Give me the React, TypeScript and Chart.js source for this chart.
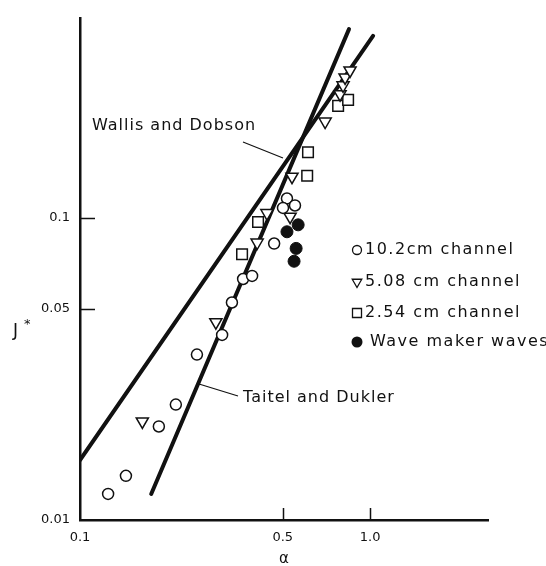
import React, { useEffect, useRef } from 'react';
import { Chart, registerables } from 'chart.js';

Chart.register(...registerables);

// ---- axis ticks ----
const xTicks = [0.1, 0.5, 1.0];
const xTickLabels = ['0.1', '0.5', '1.0'];
const yTicks = [0.01, 0.05, 0.1];
const yTickLabels = ['0.01', '0.05', '0.1'];
const xMin = 0.1;
const xMax = 2.55;
const yMin = 0.01;
const yMax = 0.46;

// ---- 10.2 cm channel (open circles) ----
const ch102Alpha = [0.125, 0.144, 0.187, 0.214, 0.253, 0.309, 0.334, 0.365, 0.392, 0.467, 0.517, 0.551, 0.501];
const ch102J = [0.0122, 0.0140, 0.0204, 0.0241, 0.0353, 0.0410, 0.0525, 0.0628, 0.0643, 0.0823, 0.116, 0.110, 0.108];

// ---- 5.08 cm channel (open down triangles) ----
const ch508Alpha = [0.164, 0.294, 0.408, 0.441, 0.530, 0.538, 0.700, 0.788, 0.807, 0.820, 0.853];
const ch508J = [0.0212, 0.0452, 0.0829, 0.1038, 0.101, 0.137, 0.2085, 0.257, 0.275, 0.292, 0.308];

// ---- 2.54 cm channel (open squares) ----
const ch254Alpha = [0.362, 0.411, 0.607, 0.611, 0.776, 0.840];
const ch254J = [0.0758, 0.0970, 0.138, 0.165, 0.235, 0.246];

// ---- wave maker waves (filled circles) ----
const waveAlpha = [0.565, 0.517, 0.556, 0.547];
const waveJ = [0.0949, 0.0900, 0.0793, 0.0719];

// ---- correlation lines ----
const wallisAlpha = [0.1, 1.024];
const wallisJ = [0.0158, 0.401];
const taitelAlpha = [0.176, 0.846];
const taitelJ = [0.0122, 0.422];

const legendLabels = ['10.2cm channel', '5.08 cm channel', '2.54 cm channel', 'Wave maker waves'];
const wallisLabel = 'Wallis and Dobson';
const taitelLabel = 'Taitel and Dukler';

const INK = '#111111';
const FONT = '"DejaVu Sans", sans-serif';

const zip = (xs: number[], ys: number[]) => xs.map((x, i) => ({ x, y: ys[i] }));

const annotationPlugin = {
  id: 'annotations',
  afterDraw(chart: any) {
    const { ctx, chartArea, scales } = chart;
    const xs = scales.x;
    const ys = scales.y;
    ctx.save();
    ctx.strokeStyle = INK;
    ctx.fillStyle = INK;

    // inward tick marks
    ctx.lineWidth = 1.5;
    ctx.beginPath();
    yTicks.forEach((v) => {
      if (v === yMin) return;
      const py = Math.round(ys.getPixelForValue(v)) + 0.5;
      ctx.moveTo(chartArea.left, py);
      ctx.lineTo(chartArea.left + 15, py);
    });
    xTicks.forEach((v) => {
      if (v === xMin) return;
      const px = Math.round(xs.getPixelForValue(v)) + 0.5;
      ctx.moveTo(px, chartArea.bottom);
      ctx.lineTo(px, chartArea.bottom - 12);
    });
    ctx.stroke();

    // axis titles
    ctx.textBaseline = 'middle';
    ctx.textAlign = 'center';
    ctx.font = `15px ${FONT}`;
    ctx.fillText('α', (chartArea.left + chartArea.right) / 2, 559);
    ctx.textAlign = 'left';
    ctx.font = `17px ${FONT}`;
    ctx.fillText('J', 13, 332);
    ctx.font = `13px ${FONT}`;
    ctx.fillText('*', 24, 325);

    // line labels
    (ctx as any).letterSpacing = '1px';
    ctx.font = `16px ${FONT}`;
    ctx.fillText(wallisLabel, 92, 126);
    ctx.fillText(taitelLabel, 243, 398);
    (ctx as any).letterSpacing = '0px';

    // leader lines
    ctx.lineWidth = 1.2;
    ctx.beginPath();
    ctx.moveTo(243, 142);
    ctx.lineTo(283, 158);
    ctx.moveTo(199, 384);
    ctx.lineTo(238, 396);
    ctx.stroke();

    // legend
    const lx = 357;
    const rows = [250, 282, 313, 342];
    ctx.lineWidth = 1.3;
    rows.forEach((ry, i) => {
      ctx.beginPath();
      if (i === 0) {
        ctx.arc(lx, ry, 4.5, 0, Math.PI * 2);
        ctx.stroke();
      } else if (i === 1) {
        const r = 5.5;
        ctx.moveTo(lx - r * 0.866, ry - r * 0.5);
        ctx.lineTo(lx + r * 0.866, ry - r * 0.5);
        ctx.lineTo(lx, ry + r);
        ctx.closePath();
        ctx.stroke();
      } else if (i === 2) {
        ctx.rect(lx - 4.5, ry - 4.5, 9, 9);
        ctx.stroke();
      } else {
        ctx.arc(lx, ry, 5.5, 0, Math.PI * 2);
        ctx.fill();
      }
    });
    (ctx as any).letterSpacing = '1.5px';
    ctx.font = `16px ${FONT}`;
    rows.forEach((ry, i) => {
      ctx.fillText(legendLabels[i], i === 3 ? 370 : 365, ry);
    });
    (ctx as any).letterSpacing = '0px';
    ctx.restore();
  },
};

export default function App() {
  const canvasRef = useRef<HTMLCanvasElement | null>(null);

  useEffect(() => {
    if (!canvasRef.current) return;
    const openMarker = {
      borderColor: INK,
      backgroundColor: '#ffffff',
      borderWidth: 1.5,
      showLine: false,
    };
    const chart = new Chart(canvasRef.current, {
      type: 'scatter',
      data: {
        datasets: [
          { label: legendLabels[0], data: zip(ch102Alpha, ch102J), pointStyle: 'circle', pointRadius: 5.5, ...openMarker },
          { label: legendLabels[1], data: zip(ch508Alpha, ch508J), pointStyle: 'triangle', pointRotation: 180, pointRadius: 7, ...openMarker },
          { label: legendLabels[2], data: zip(ch254Alpha, ch254J), pointStyle: 'rect', pointRadius: 7.5, ...openMarker },
          { label: legendLabels[3], data: zip(waveAlpha, waveJ), pointStyle: 'circle', pointRadius: 6, borderColor: INK, backgroundColor: INK, borderWidth: 1, showLine: false },
          { label: wallisLabel, data: zip(wallisAlpha, wallisJ), showLine: true, borderColor: INK, borderWidth: 4, pointRadius: 0, borderCapStyle: 'round' },
          { label: taitelLabel, data: zip(taitelAlpha, taitelJ), showLine: true, borderColor: INK, borderWidth: 4, pointRadius: 0, borderCapStyle: 'round' },
        ] as any,
      },
      options: {
        responsive: false,
        animation: false,
        events: [],
        layout: { padding: { top: 10, right: 58, left: 0, bottom: 0 } },
        plugins: { legend: { display: false }, tooltip: { enabled: false } },
        scales: {
          x: {
            type: 'logarithmic',
            min: xMin,
            max: xMax,
            afterBuildTicks: (s: any) => { s.ticks = xTicks.map((v) => ({ value: v })); },
            afterFit: (s: any) => { s.height = 46; },
            ticks: {
              autoSkip: false,
              maxRotation: 0,
              padding: 10,
              color: INK,
              font: { family: FONT, size: 13 },
              callback: (v: any) => { const i = xTicks.indexOf(Number(v)); return i >= 0 ? xTickLabels[i] : ''; },
            },
            grid: { display: false, drawTicks: false },
            border: { display: true, width: 2.5, color: INK },
          },
          y: {
            type: 'logarithmic',
            min: yMin,
            max: yMax,
            afterBuildTicks: (s: any) => { s.ticks = yTicks.map((v) => ({ value: v })); },
            afterFit: (s: any) => { s.width = 80; },
            ticks: {
              autoSkip: false,
              padding: 10,
              color: INK,
              font: { family: FONT, size: 13 },
              callback: (v: any) => { const i = yTicks.indexOf(Number(v)); return i >= 0 ? yTickLabels[i] : ''; },
            },
            grid: { display: false, drawTicks: false },
            border: { display: true, width: 2.5, color: INK },
          },
        },
      } as any,
      plugins: [annotationPlugin],
    });
    return () => chart.destroy();
  }, []);

  return (
    <div style={{ position: 'absolute', left: 0, top: 0, width: 546, height: 566, background: '#fff' }}>
      <canvas ref={canvasRef} width={546} height={566} style={{ width: 546, height: 566 }} />
    </div>
  );
}
